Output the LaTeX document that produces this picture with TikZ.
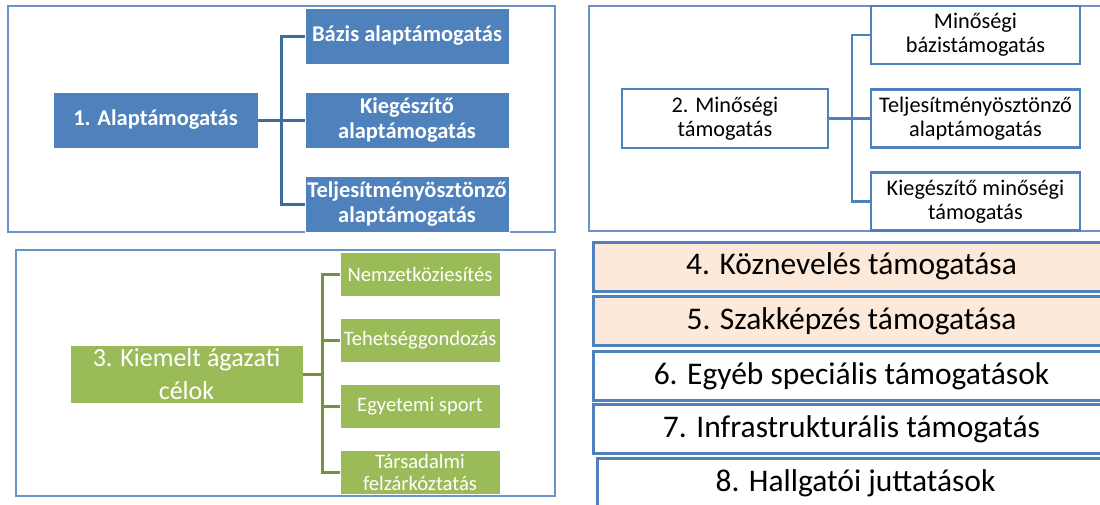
\documentclass[tikz,border=0pt]{standalone}
\usepackage{fontspec}
\setmainfont{Carlito}
\usetikzlibrary{positioning}
\definecolor{accblue}{HTML}{4F81BD}
\definecolor{darkblue}{HTML}{3F6C9F}
\definecolor{accgreen}{HTML}{9BBB59}
\definecolor{darkgreen}{HTML}{76923C}
\definecolor{peach}{HTML}{FDE9D9}
\tikzset{
frame/.style={draw=accblue!85,line width=1.3pt},
style1/.style={rectangle,fill=accblue,draw=white,line width=0.6pt,text=white,align=center,inner sep=1pt,font=\fontsize{22.5}{25}\selectfont\bfseries},
style2/.style={rectangle,fill=white,draw=accblue,line width=2.6pt,align=center,inner sep=1pt,font=\fontsize{22.3}{24}\selectfont},
style3/.style={rectangle,fill=accgreen,draw=white,line width=0.6pt,text=white,align=center,inner sep=1pt},
style4/.style={rectangle,draw=accblue,line width=3pt,align=center,inner sep=1pt,minimum width=517pt,minimum height=49pt,font=\fontsize{31.5}{36}\selectfont}
}

\begin{document}
\begin{tikzpicture}[x=1pt,y=-1pt]
\useasboundingbox (0,0) rectangle (1100,504);
\clip (0,0) rectangle (1100,504);

% frames
\draw[frame] (8,6) rectangle (555,232);
\draw[frame] (589,6) rectangle (1120,231);
\draw[frame] (16,250) rectangle (555,496);

% 1. Alaptamogatas
\node[style1,minimum width=205pt,minimum height=56pt] (c1) at (155.5,120) {1. Alaptámogatás};
\node[style1,minimum width=204pt,minimum height=56pt] (c11) at (407,36) {Bázis alaptámogatás};
\node[style1,minimum width=204pt,minimum height=56pt] (c12) at (407,120) {Kiegészítő\\alaptámogatás};
\node[style1,minimum width=204pt,minimum height=56pt] (c13) at (407,204) {Teljesítményösztönző\\alaptámogatás};
\coordinate (t1) at (281,120);

% 2. Minosegi tamogatas
\node[style2,minimum width=206pt,minimum height=59pt] (c2) at (725,118.5) {2. Minőségi\\támogatás};
\node[style2,minimum width=209pt,minimum height=58pt] (c21) at (975.5,35) {Minőségi\\bázistámogatás};
\node[style2,minimum width=209pt,minimum height=58pt] (c22) at (975.5,118.5) {Teljesítményösztönző\\alaptámogatás};
\node[style2,minimum width=209pt,minimum height=58pt] (c23) at (975.5,201.5) {Kiegészítő minőségi\\támogatás};
\coordinate (t2) at (852,118.5);

% 3. Kiemelt agazati celok
\node[style3,minimum width=233pt,minimum height=58pt,font=\fontsize{26}{33}\selectfont] (c3) at (186.5,374) {3. Kiemelt ágazati\\célok};
\node[style3,minimum width=160pt,minimum height=44pt,font=\fontsize{20.6}{22}\selectfont] (c31) at (420,274) {Nemzetköziesítés};
\node[style3,minimum width=160pt,minimum height=44pt,font=\fontsize{20.6}{22}\selectfont] (c32) at (420,340) {Tehetséggondozás};
\node[style3,minimum width=160pt,minimum height=44pt,font=\fontsize{20.6}{22}\selectfont] (c33) at (420,406) {Egyetemi sport};
\node[style3,minimum width=160pt,minimum height=44pt,font=\fontsize{20.6}{22}\selectfont] (c34) at (420,472) {Társadalmi\\felzárkóztatás};
\coordinate (t3) at (322,374);

% list
\node[style4,fill=peach] (c4) at (851.5,266.5) {4. Köznevelés támogatása};
\node[style4,fill=peach] (c5) at (851.5,321) {5. Szakképzés támogatása};
\node[style4,fill=white] (c6) at (851.5,376) {6. Egyéb speciális támogatások};
\node[style4,fill=white] (c7) at (851.5,429) {7. Infrastrukturális támogatás};
\node[style4,fill=white,minimum height=50pt] (c8) at (855.5,483) {8. Hallgatói juttatások};

\foreach \value in {1,...,3}
  \draw[darkblue,line width=3pt] (c1.east) -- (c1.east -| t1) |- (c1\value.west);

\foreach \value in {1,...,3}
  \draw[accblue,line width=2.6pt] (c2.east) -- (c2.east -| t2) |- (c2\value.west);

\foreach \value in {1,...,4}
  \draw[darkgreen,line width=3pt] (c3.east) -- (c3.east -| t3) |- (c3\value.west);
\end{tikzpicture}
\end{document}
